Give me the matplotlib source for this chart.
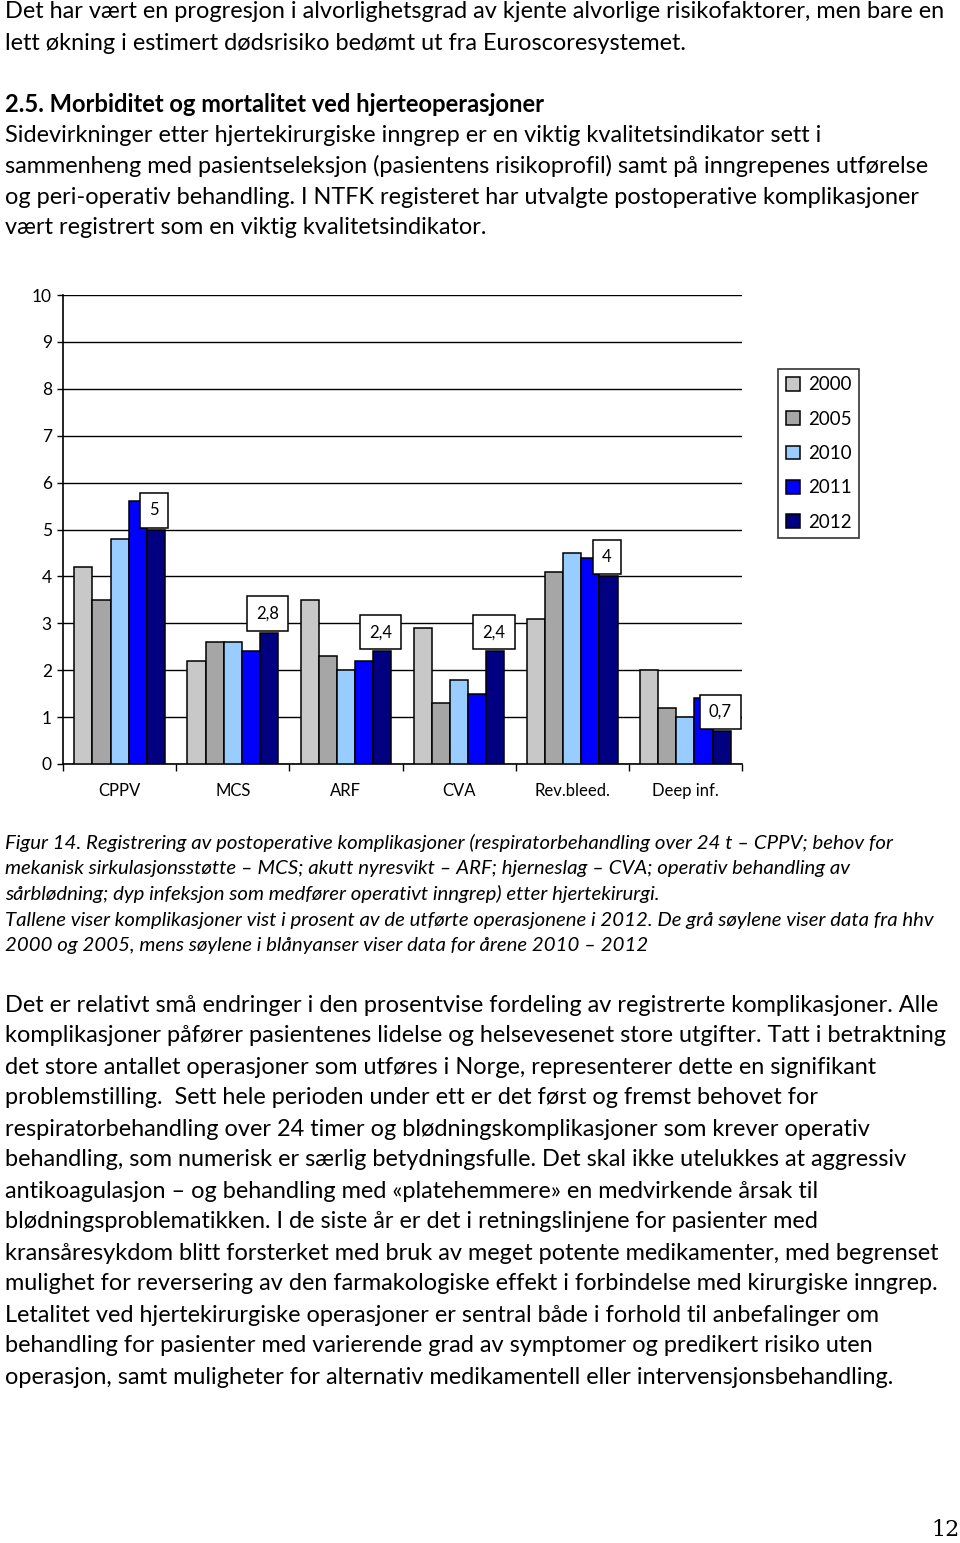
import matplotlib
matplotlib.use('Agg')
import matplotlib.pyplot as plt
import numpy as np

# data (percent of operations)
categories = ["CPPV", "MCS", "ARF", "CVA", "Rev.bleed.", "Deep inf."]
years = ["2000", "2005", "2010", "2011", "2012"]
v2000 = [4.2, 2.2, 3.5, 2.9, 3.1, 2.0]
v2005 = [3.5, 2.6, 2.3, 1.3, 4.1, 1.2]
v2010 = [4.8, 2.6, 2.0, 1.8, 4.5, 1.0]
v2011 = [5.6, 2.4, 2.2, 1.5, 4.4, 1.4]
v2012 = [5.0, 2.8, 2.4, 2.4, 4.0, 0.7]
labels_2012 = ["5", "2,8", "2,4", "2,4", "4", "0,7"]
colors = ["#C8C8C8", "#A6A6A6", "#99CCFF", "#0000FF", "#000080"]

top_lines = [
    "Det har vært en progresjon i alvorlighetsgrad av kjente alvorlige risikofaktorer, men bare en",
    "lett økning i estimert dødsrisiko bedømt ut fra Euroscoresystemet.",
]
heading = "2.5. Morbiditet og mortalitet ved hjerteoperasjoner"
intro_lines = [
    "Sidevirkninger etter hjertekirurgiske inngrep er en viktig kvalitetsindikator sett i",
    "sammenheng med pasientseleksjon (pasientens risikoprofil) samt på inngrepenes utførelse",
    "og peri-operativ behandling. I NTFK registeret har utvalgte postoperative komplikasjoner",
    "vært registrert som en viktig kvalitetsindikator.",
]
caption_lines = [
    "Figur 14. Registrering av postoperative komplikasjoner (respiratorbehandling over 24 t – CPPV; behov for",
    "mekanisk sirkulasjonsstøtte – MCS; akutt nyresvikt – ARF; hjerneslag – CVA; operativ behandling av",
    "sårblødning; dyp infeksjon som medfører operativt inngrep) etter hjertekirurgi.",
    "Tallene viser komplikasjoner vist i prosent av de utførte operasjonene i 2012. De grå søylene viser data fra hhv",
    "2000 og 2005, mens søylene i blånyanser viser data for årene 2010 – 2012",
]
body_lines = [
    "Det er relativt små endringer i den prosentvise fordeling av registrerte komplikasjoner. Alle",
    "komplikasjoner påfører pasientenes lidelse og helsevesenet store utgifter. Tatt i betraktning",
    "det store antallet operasjoner som utføres i Norge, representerer dette en signifikant",
    "problemstilling.  Sett hele perioden under ett er det først og fremst behovet for",
    "respiratorbehandling over 24 timer og blødningskomplikasjoner som krever operativ",
    "behandling, som numerisk er særlig betydningsfulle. Det skal ikke utelukkes at aggressiv",
    "antikoagulasjon – og behandling med «platehemmere» en medvirkende årsak til",
    "blødningsproblematikken. I de siste år er det i retningslinjene for pasienter med",
    "kransåresykdom blitt forsterket med bruk av meget potente medikamenter, med begrenset",
    "mulighet for reversering av den farmakologiske effekt i forbindelse med kirurgiske inngrep.",
    "Letalitet ved hjertekirurgiske operasjoner er sentral både i forhold til anbefalinger om",
    "behandling for pasienter med varierende grad av symptomer og predikert risiko uten",
    "operasjon, samt muligheter for alternativ medikamentell eller intervensjonsbehandling.",
]

W, H = 960, 1543
plt.rcParams['font.family'] = ['Lato', 'DejaVu Sans']
fig = plt.figure(figsize=(W / 100, H / 100), dpi=100)


def put(x, y, s, **kw):
    fig.text(x / W, 1 - y / H, s, va='center', ha='left', **kw)


# page text
body_fs = 16.9
for i, s in enumerate(top_lines):
    put(5, 12 + 31 * i, s, fontsize=body_fs)
put(5, 104, heading, fontsize=17.1, fontweight='bold')
for i, s in enumerate(intro_lines):
    put(5, 135 + 31 * i, s, fontsize=body_fs)
for i, s in enumerate(caption_lines):
    put(5, 843 + 25.7 * i, s, fontsize=14.7, style='italic')
for i, s in enumerate(body_lines):
    put(5, 1005 + 31 * i, s, fontsize=body_fs)
fig.text(945 / W, 1 - 1530 / H, "12", ha='center', va='center',
         fontsize=16, family='DejaVu Serif')

# chart
x0, x1, ytop, ybot = 63, 742, 295, 764
ax = fig.add_axes([x0 / W, 1 - ybot / H, (x1 - x0) / W, (ybot - ytop) / H])
series = [v2000, v2005, v2010, v2011, v2012]
n = len(categories)
x = np.arange(n) + 0.5
bw = 0.16
for k, (vals, c) in enumerate(zip(series, colors)):
    ax.bar(x + (k - 2) * bw, vals, bw, color=c, edgecolor='black',
           linewidth=1.1, label=years[k], zorder=3)

for xi, v, lab in zip(x + 2 * bw, v2012, labels_2012):
    ax.annotate(lab, (xi, v), xytext=(-1, 8), textcoords='offset points',
                ha='center', va='bottom', fontsize=12, zorder=5,
                bbox=dict(boxstyle='square,pad=0.55', fc='white', ec='black', lw=1.1))

ax.set_xlim(0, n)
ax.set_ylim(0, 10)
ax.set_yticks(range(0, 11))
ax.yaxis.grid(True, color='black', linewidth=1, zorder=0)
ax.set_axisbelow(True)
ax.set_xticks(np.arange(n + 1))
ax.set_xticklabels([])
ax.set_xticks(x, minor=True)
ax.set_xticklabels(categories, minor=True, fontsize=12)
ax.tick_params(axis='x', which='minor', length=0, pad=14)
ax.tick_params(axis='x', which='major', length=5, direction='out', width=1)
ax.tick_params(axis='y', length=4, width=1, labelsize=12.5, pad=4)
for sp in ['top', 'right']:
    ax.spines[sp].set_visible(False)
for sp in ['left', 'bottom']:
    ax.spines[sp].set_linewidth(1.2)

leg = fig.legend(loc='upper left', bbox_to_anchor=(778 / W, 1 - 369 / H),
                 frameon=True, fancybox=False, edgecolor='black',
                 fontsize=13.5, handlelength=0.75, handleheight=0.75,
                 handletextpad=0.45, labelspacing=0.92, borderpad=0.4,
                 borderaxespad=0)
leg.get_frame().set_linewidth(1.2)

fig.savefig("out.png", dpi=100)
